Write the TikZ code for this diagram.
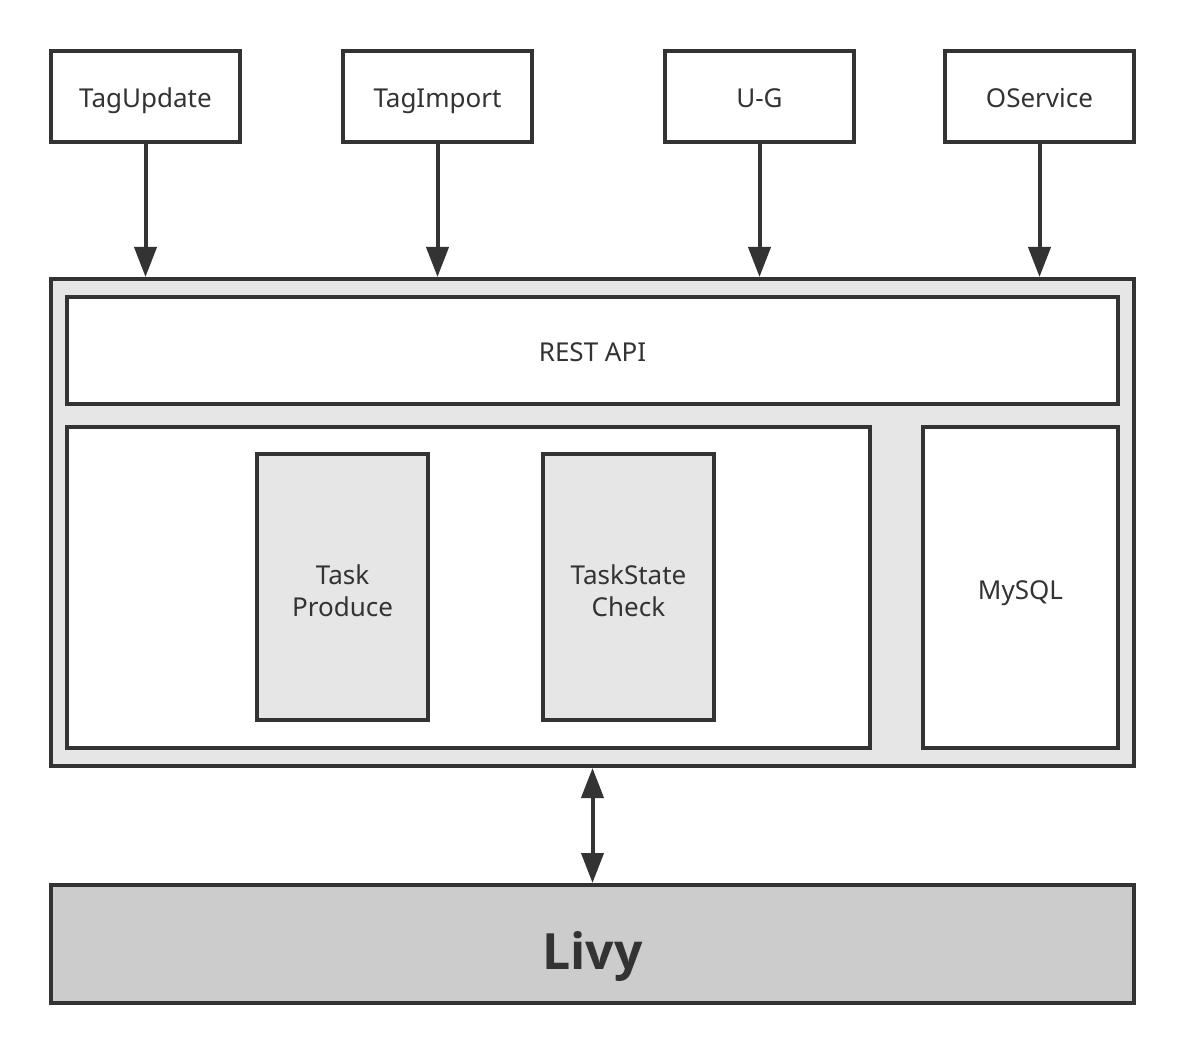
\documentclass[tikz,border=0pt]{standalone}
\usepackage{fontspec}
\setmainfont{Noto Sans}
\newfontfamily\livyfont{Open Sans}
\usetikzlibrary{arrows.meta}
\definecolor{ink}{HTML}{333333}
\definecolor{lightg}{HTML}{E6E6E6}
\definecolor{midg}{HTML}{CCCCCC}
\newcommand{\twolines}[2]{\raisebox{3pt}[0pt][0pt]{\begin{tabular}[t]{@{}c@{}}#1\\#2\end{tabular}}}
\begin{document}
\begin{tikzpicture}[x=1pt,y=-1pt,
  box/.style={draw=ink,line width=4pt,inner sep=0pt,text=ink,font=\fontsize{26}{32}\selectfont},
  one/.style={text height=23pt,text depth=0pt},
  topbox/.style={box,one,fill=white,minimum width=189pt,minimum height=91pt},
  conn/.style={draw=ink,line width=4pt,-{Triangle[width=22pt,length=30pt]}},
  dconn/.style={draw=ink,line width=4pt,{Triangle[width=22pt,length=30pt]}-{Triangle[width=22pt,length=30pt]}}]
\useasboundingbox (0,0) rectangle (1186,1056);
\node[topbox] (tu) at (145.5,96.5) {TagUpdate};
\node[topbox] (ti) at (437.5,96.5) {TagImport};
\node[topbox] (ug) at (759.5,96.5) {U-G};
\node[topbox] (os) at (1039.5,96.5) {OService};
\node[box,fill=lightg,minimum width=1083pt,minimum height=487pt] (outer) at (592.5,522.5) {};
\node[box,one,fill=white,minimum width=1051pt,minimum height=107pt] (rest) at (592.5,350.5) {REST API};
\node[box,fill=white,minimum width=803pt,minimum height=321pt] (inner) at (468.5,587.5) {};
\node[box,fill=lightg,minimum width=171pt,minimum height=266pt] (tp) at (342.5,587) {\twolines{Task}{Produce}};
\node[box,fill=lightg,minimum width=171pt,minimum height=266pt] (tsc) at (628.5,587) {\twolines{TaskState}{Check}};
\node[box,one,fill=white,minimum width=195pt,minimum height=321pt] (mysql) at (1020.5,587.5) {MySQL};
\node[box,fill=midg,minimum width=1083pt,minimum height=118pt,font=\livyfont\fontsize{50}{60}\selectfont\bfseries,text height=50pt,text depth=0pt] (livy) at (592.5,944) {Livy};
\foreach \n in {tu,ti,ug,os}
  \draw[conn] (\n.south) -- (\n.south |- outer.north);
\draw[dconn] (outer.south) -- (livy.north);
\end{tikzpicture}
\end{document}
